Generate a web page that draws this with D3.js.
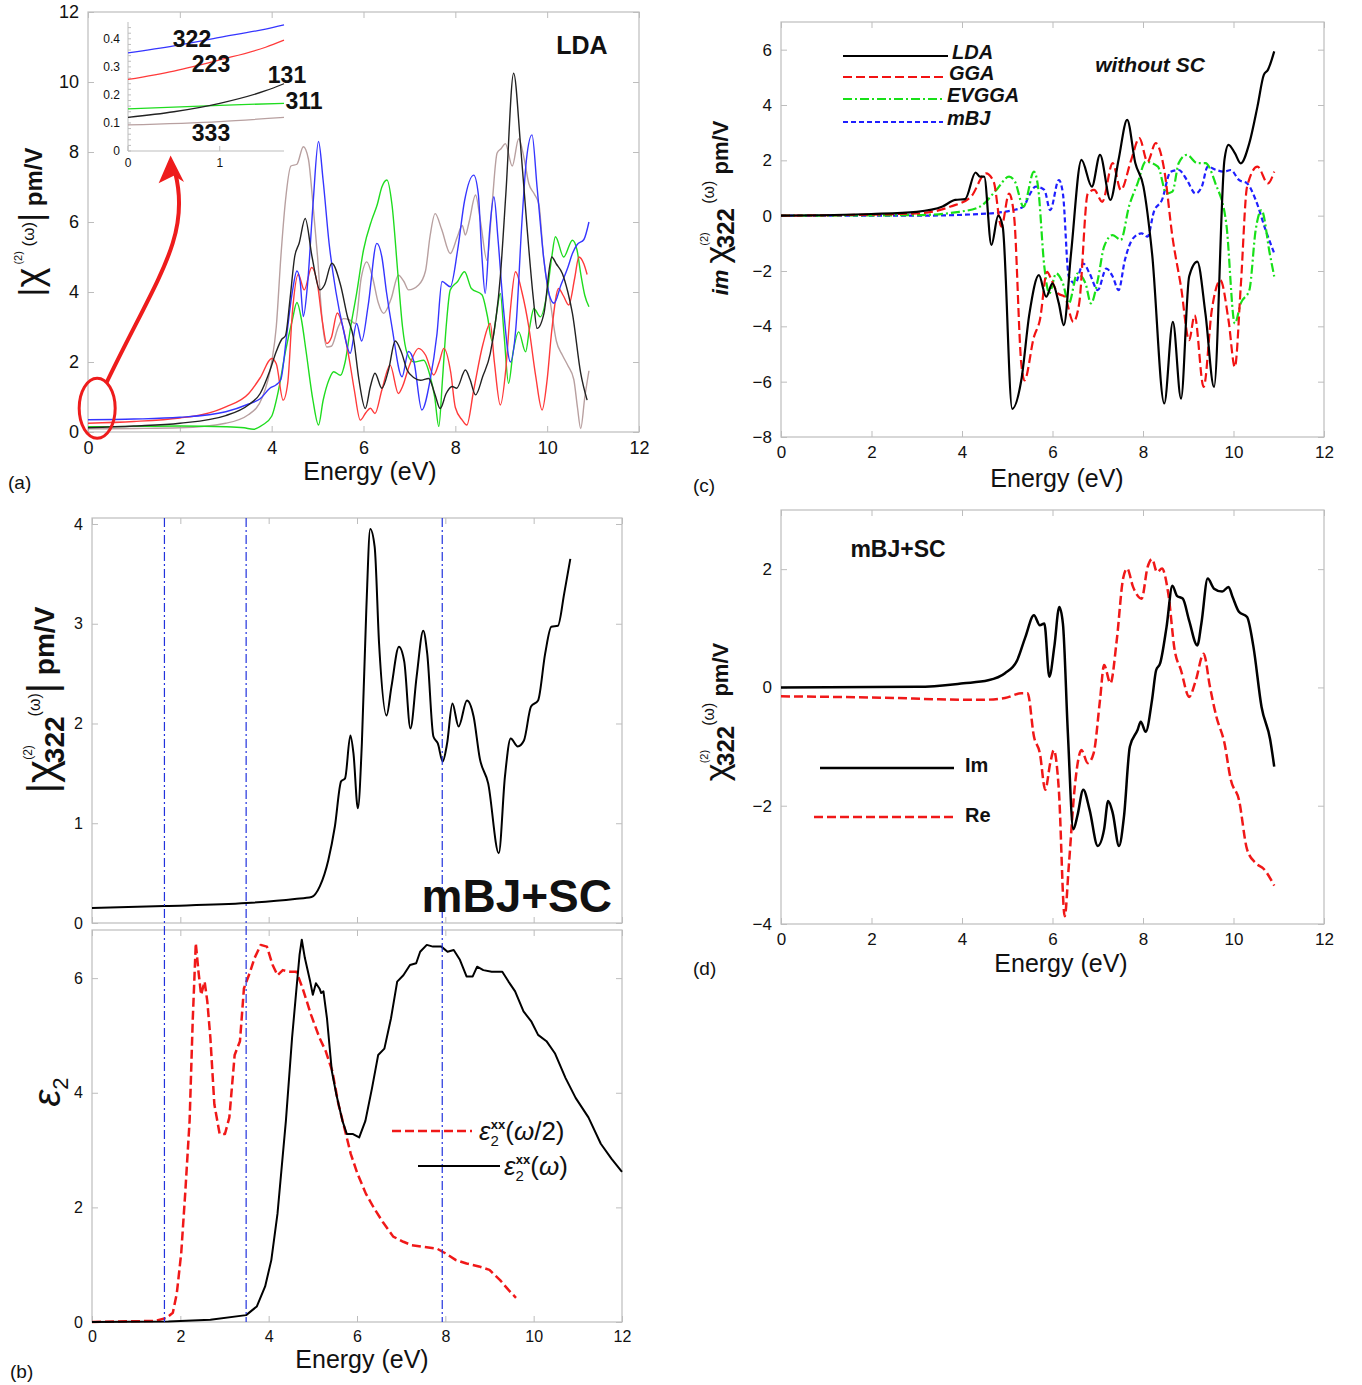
<!DOCTYPE html>
<html>
<head>
<meta charset="utf-8">
<script src="https://cdn.jsdelivr.net/npm/d3@7"></script>
<style>
  body { margin: 0; background: #fff; }
  svg { display: block; }
  text { font-family: "Liberation Sans", Arial, sans-serif; fill: #111; }
</style>
</head>
<body>
<div id="chart"></div>
<script>
// ---------- panel (a): |chi(2)| LDA, five tensor components ----------
const chi322 = [[0,0.35],[1,0.37],[2,0.42],[3,0.58],[3.5,0.8],[3.75,0.95],[3.96,1.25],[4.1,1.35],[4.2,1.5],[4.33,2.8],[4.45,4.0],[4.55,4.6],[4.62,4.3],[4.69,3.3],[4.78,4.2],[4.9,6.5],[5.02,8.3],[5.12,7.2],[5.25,5.4],[5.4,4.0],[5.55,3.0],[5.71,2.25],[5.85,3.1],[5.96,2.6],[6.1,3.6],[6.29,5.39],[6.4,5.0],[6.5,4.0],[6.62,3.0],[6.84,1.58],[6.98,2.3],[7.1,2.0],[7.27,0.63],[7.45,1.48],[7.6,2.8],[7.71,4.3],[7.89,4.15],[8.05,5.2],[8.2,6.6],[8.4,7.34],[8.5,6.8],[8.58,5.0],[8.65,3.96],[8.75,5.8],[8.84,6.72],[8.93,5.5],[9.05,3.5],[9.2,2.0],[9.32,3.0],[9.45,6.0],[9.55,7.8],[9.67,8.49],[9.78,7.0],[9.93,4.91],[10.05,3.9],[10.15,3.68],[10.3,4.2],[10.45,4.7],[10.55,5.1],[10.65,5.35],[10.8,5.5],[10.91,6.0]];
const chi223 = [[0,0.25],[1,0.3],[2,0.4],[2.5,0.5],[3,0.72],[3.5,1.1],[3.75,1.55],[4.0,2.1],[4.1,1.95],[4.25,0.91],[4.35,1.4],[4.45,3.4],[4.58,4.5],[4.71,4.06],[4.87,4.7],[5.0,4.2],[5.1,3.2],[5.2,2.53],[5.3,2.7],[5.43,3.4],[5.55,3.0],[5.7,2.0],[5.8,1.2],[5.93,0.34],[6.05,0.55],[6.15,0.68],[6.25,0.53],[6.4,1.2],[6.58,1.91],[6.76,1.1],[6.85,1.3],[7.0,1.9],[7.2,2.39],[7.35,2.2],[7.53,1.63],[7.65,2.0],[7.75,2.39],[7.9,1.7],[8.0,0.7],[8.15,0.34],[8.25,0.2],[8.4,1.2],[8.6,2.5],[8.76,3.1],[8.85,2.0],[8.98,0.77],[9.1,1.8],[9.2,3.5],[9.31,4.58],[9.45,4.0],[9.6,3.0],[9.75,1.6],[9.89,0.63],[10.0,1.5],[10.1,2.9],[10.25,4.1],[10.35,3.9],[10.47,3.63],[10.6,4.4],[10.69,5.0],[10.8,4.8],[10.87,4.5]];
const chi131 = [[0,0.12],[1,0.17],[2,0.25],[3,0.47],[3.5,0.78],[3.75,1.1],[3.96,1.75],[4.1,2.3],[4.22,2.65],[4.3,2.75],[4.4,3.8],[4.5,5.0],[4.6,5.4],[4.73,6.1],[4.88,5.0],[5.05,4.06],[5.15,4.2],[5.31,4.82],[5.5,4.2],[5.65,3.3],[5.78,2.7],[5.9,1.5],[6.04,0.67],[6.15,1.3],[6.25,1.68],[6.4,1.25],[6.55,1.8],[6.69,2.6],[6.82,2.3],[6.95,1.77],[7.1,1.55],[7.24,1.48],[7.42,1.53],[7.55,1.1],[7.67,0.67],[7.8,1.1],[7.93,1.3],[8.03,1.25],[8.22,1.77],[8.32,1.5],[8.44,1.06],[8.6,1.6],[8.76,2.24],[8.98,4.44],[9.1,6.8],[9.27,10.25],[9.42,8.2],[9.56,5.87],[9.7,3.8],[9.78,2.96],[9.93,3.39],[10.1,5.0],[10.2,4.8],[10.33,4.53],[10.45,4.0],[10.55,3.39],[10.73,1.68],[10.87,0.91]];
const chi311 = [[0,0.15],[1,0.16],[2,0.17],[3,0.15],[3.4,0.12],[3.6,0.08],[3.8,0.2],[4.0,0.45],[4.15,1.2],[4.3,2.3],[4.45,3.2],[4.55,3.7],[4.65,3.2],[4.75,2.3],[4.9,0.9],[5.02,0.2],[5.12,0.9],[5.25,1.5],[5.35,1.72],[5.5,1.62],[5.6,2.0],[5.72,3.0],[5.85,3.96],[6.0,5.2],[6.18,6.06],[6.3,6.5],[6.4,7.0],[6.51,7.2],[6.62,6.5],[6.75,4.5],[6.85,3.0],[6.95,2.25],[7.1,2.0],[7.31,2.05],[7.45,1.6],[7.55,1.0],[7.64,0.16],[7.72,1.5],[7.8,3.0],[7.89,4.06],[8.05,4.3],[8.2,4.58],[8.35,4.1],[8.58,3.92],[8.7,3.3],[8.8,2.6],[8.9,3.4],[8.98,3.96],[9.06,2.8],[9.16,1.39],[9.26,2.3],[9.38,2.86],[9.53,2.29],[9.62,3.0],[9.71,3.53],[9.85,3.29],[10.0,4.0],[10.1,5.0],[10.18,5.58],[10.36,5.0],[10.55,5.48],[10.65,5.2],[10.73,4.53],[10.82,3.9],[10.91,3.58]];
const chi333 = [[0,0.09],[1,0.1],[2,0.12],[3,0.25],[3.5,0.5],[3.8,1.0],[4.0,2.0],[4.1,3.0],[4.2,5.0],[4.3,6.6],[4.42,7.6],[4.55,7.65],[4.69,8.15],[4.8,7.8],[4.9,6.5],[5.0,5.0],[5.1,3.2],[5.2,2.43],[5.3,2.45],[5.45,3.0],[5.56,3.24],[5.7,3.2],[5.82,3.1],[5.95,4.4],[6.07,4.86],[6.2,4.4],[6.32,3.7],[6.44,3.39],[6.6,3.8],[6.76,4.48],[6.88,4.3],[6.98,4.06],[7.2,4.2],[7.35,4.6],[7.45,5.6],[7.56,6.24],[7.7,5.8],[7.89,5.1],[8.05,5.6],[8.15,5.9],[8.22,5.63],[8.3,6.0],[8.44,6.77],[8.55,6.0],[8.69,4.9],[8.8,6.5],[8.91,7.97],[9.0,8.1],[9.09,8.24],[9.24,7.6],[9.38,8.38],[9.5,7.8],[9.6,7.1],[9.72,6.8],[9.82,6.5],[9.92,5.0],[10.07,3.7],[10.2,2.6],[10.33,2.2],[10.45,1.9],[10.58,1.5],[10.66,0.7],[10.73,0.1],[10.82,1.0],[10.91,1.75]];

// inset of (a): low energy zoom
const inset322 = [[0,0.35],[0.5,0.375],[1,0.405],[1.5,0.435],[1.7,0.45]];
const inset223 = [[0,0.255],[0.5,0.285],[1,0.325],[1.5,0.37],[1.7,0.395]];
const inset131 = [[0,0.12],[0.5,0.14],[1,0.17],[1.5,0.215],[1.7,0.24]];
const inset311 = [[0,0.15],[1,0.163],[1.7,0.17]];
const inset333 = [[0,0.093],[1,0.105],[1.7,0.12]];

// ---------- panel (b): |chi322| mBJ+SC and eps2 ----------
const chiMbjSc = [[0,0.15],[1.64,0.17],[3.5,0.2],[4.59,0.24],[4.97,0.26],[5.16,0.37],[5.35,0.63],[5.5,0.97],[5.64,1.42],[5.73,1.45],[5.85,1.88],[5.92,1.7],[6.02,1.15],[6.11,1.8],[6.21,3.13],[6.3,3.95],[6.4,3.77],[6.5,2.8],[6.67,2.08],[6.78,2.37],[6.95,2.77],[7.07,2.62],[7.21,1.95],[7.35,2.47],[7.5,2.93],[7.59,2.7],[7.73,1.87],[7.83,1.8],[7.94,1.62],[8.04,1.8],[8.16,2.2],[8.3,1.97],[8.49,2.23],[8.64,2.07],[8.78,1.65],[8.97,1.4],[9.21,0.7],[9.35,1.47],[9.48,1.85],[9.64,1.77],[9.78,1.83],[9.94,2.17],[10.1,2.23],[10.26,2.7],[10.4,2.97],[10.55,2.98],[10.69,3.3],[10.83,3.65]];
const eps2Omega = [[0,0],[1.73,0.01],[2.68,0.04],[3.49,0.12],[3.73,0.27],[3.92,0.62],[4.06,1.08],[4.2,1.89],[4.39,3.51],[4.53,4.96],[4.63,5.82],[4.7,6.41],[4.75,6.67],[4.82,6.35],[4.94,5.94],[5.0,5.71],[5.07,5.91],[5.15,5.82],[5.19,5.74],[5.24,5.77],[5.32,5.3],[5.43,4.38],[5.53,3.98],[5.67,3.51],[5.77,3.28],[5.91,3.28],[6.05,3.22],[6.19,3.51],[6.34,4.08],[6.48,4.66],[6.62,4.77],[6.77,5.3],[6.91,5.94],[7.05,6.05],[7.2,6.23],[7.34,6.26],[7.43,6.46],[7.58,6.58],[7.72,6.55],[7.91,6.55],[8.05,6.46],[8.19,6.49],[8.33,6.32],[8.48,6.03],[8.62,6.03],[8.72,6.2],[8.86,6.14],[9.05,6.11],[9.29,6.11],[9.43,5.94],[9.58,5.77],[9.77,5.42],[9.95,5.24],[10.1,5.01],[10.29,4.9],[10.48,4.69],[10.72,4.26],[10.95,3.91],[11.24,3.57],[11.52,3.11],[11.76,2.85],[12.0,2.62]];
const eps2Half = [[0,0],[1.44,0.02],[1.68,0.07],[1.83,0.16],[1.92,0.5],[2.02,1.2],[2.11,2.24],[2.21,3.51],[2.28,5.25],[2.35,6.61],[2.41,6.12],[2.47,5.71],[2.55,5.94],[2.61,5.6],[2.68,4.96],[2.77,3.8],[2.89,3.28],[3.01,3.28],[3.11,3.57],[3.23,4.66],[3.35,4.9],[3.44,5.82],[3.58,6.11],[3.68,6.35],[3.82,6.58],[3.96,6.55],[4.09,6.23],[4.2,6.05],[4.32,6.14],[4.49,6.11],[4.63,6.11],[4.77,5.82],[4.96,5.36],[5.15,4.96],[5.29,4.73],[5.44,4.38],[5.58,3.8],[5.72,3.37],[5.86,2.93],[6.01,2.59],[6.2,2.24],[6.39,1.98],[6.58,1.75],[6.82,1.49],[7.05,1.4],[7.24,1.34],[7.53,1.31],[7.81,1.28],[8.0,1.2],[8.24,1.08],[8.48,1.02],[8.76,0.97],[9.0,0.91],[9.24,0.73],[9.43,0.56],[9.6,0.42]];
const markerEnergies = [1.64, 3.49, 7.93];

// ---------- panel (c): Im chi322 without SC, four functionals ----------
const imLDA = [[0,0],[2.0,0.06],[3.0,0.14],[3.57,0.33],[3.85,0.57],[4.07,0.6],[4.3,1.56],[4.4,1.41],[4.49,1.41],[4.65,-1.06],[4.8,0],[4.9,-0.4],[5.11,-6.98],[5.31,-5.95],[5.49,-3.54],[5.7,-2.15],[5.86,-2.93],[6.0,-2.45],[6.14,-3.17],[6.25,-3.96],[6.41,-1.36],[6.64,2.02],[6.87,1.05],[7.05,2.2],[7.28,0.57],[7.46,2.02],[7.65,3.46],[7.83,1.9],[8.01,1.05],[8.2,-1.36],[8.47,-6.79],[8.66,-3.84],[8.84,-6.61],[9.02,-2.2],[9.2,-1.66],[9.38,-3.54],[9.57,-6.19],[9.8,2.02],[9.89,2.56],[10.03,2.26],[10.16,1.89],[10.35,2.62],[10.53,3.95],[10.67,5.09],[10.76,5.27],[10.9,5.94]];
const imGGA = [[0,0],[3.0,0.08],[3.75,0.33],[4.2,0.69],[4.53,1.53],[4.7,1.23],[4.87,-0.4],[5.04,0.8],[5.15,0],[5.31,-5.35],[5.38,-5.95],[5.59,-4.38],[5.72,-3.78],[5.88,-2.03],[5.98,-2.33],[6.12,-2.81],[6.27,-2.93],[6.46,-3.84],[6.59,-3.17],[6.78,0.8],[6.92,0.93],[7.1,0.5],[7.33,1.9],[7.51,0.93],[7.74,2.02],[7.92,2.8],[8.1,1.95],[8.28,2.62],[8.47,1.65],[8.65,-0.76],[8.84,-2.57],[9.02,-4.5],[9.14,-3.6],[9.34,-6.19],[9.52,-3.42],[9.71,-2.33],[9.89,-3.78],[10.03,-5.47],[10.16,-2.57],[10.3,1.05],[10.53,1.77],[10.76,1.17],[10.9,1.59]];
const imEVGGA = [[0,0],[3.0,0.02],[3.94,0.14],[4.4,0.33],[4.76,0.93],[5.04,1.41],[5.17,1.23],[5.36,0.33],[5.59,1.59],[5.68,1.05],[5.82,-1.85],[5.93,-2.81],[6.08,-2.09],[6.23,-2.45],[6.36,-3.17],[6.55,-2.09],[6.73,-2.45],[6.85,-3.17],[7.0,-2.33],[7.14,-1.12],[7.33,-0.7],[7.51,-0.88],[7.69,0.33],[7.88,1.17],[8.06,1.95],[8.33,1.77],[8.52,0.8],[8.65,0.87],[8.79,1.9],[8.97,2.2],[9.2,1.9],[9.38,1.9],[9.6,1.17],[9.84,-0.28],[10.03,-3.9],[10.16,-3.17],[10.35,-2.69],[10.49,-0.52],[10.62,0.2],[10.8,-1.36],[10.9,-2.2]];
const imMBJ = [[0,0],[3.0,0],[4.4,0.06],[5.13,0.2],[5.36,0.33],[5.49,0.75],[5.63,1.05],[5.82,0.93],[5.95,0.2],[6.14,1.29],[6.23,0.8],[6.36,-2.2],[6.5,-2.45],[6.68,-1.73],[6.82,-2.09],[7.0,-2.69],[7.19,-1.91],[7.33,-2.2],[7.46,-2.69],[7.6,-1.6],[7.78,-0.82],[7.97,-0.64],[8.1,-0.76],[8.24,0.14],[8.42,0.57],[8.61,1.59],[8.79,1.65],[8.97,1.29],[9.16,0.8],[9.3,1.05],[9.43,1.77],[9.62,1.65],[9.8,1.59],[9.94,1.65],[10.12,1.29],[10.3,1.17],[10.49,0.57],[10.71,-0.52],[10.9,-1.36]];

// ---------- panel (d): Im / Re chi322 mBJ+SC ----------
const imMbjSc = [[0,0],[3.02,0.01],[4.03,0.07],[4.58,0.12],[4.95,0.24],[5.22,0.46],[5.4,0.85],[5.59,1.22],[5.72,1.05],[5.82,1.08],[5.93,0.18],[6.04,0.69],[6.15,1.36],[6.23,1.08],[6.34,-0.78],[6.46,-2.4],[6.55,-2.17],[6.68,-1.73],[6.82,-2.07],[7.0,-2.68],[7.14,-2.4],[7.23,-1.92],[7.33,-2.12],[7.47,-2.68],[7.58,-2.18],[7.71,-1.0],[7.88,-0.72],[7.95,-0.58],[8.06,-0.75],[8.2,-0.21],[8.29,0.29],[8.38,0.41],[8.52,1.02],[8.65,1.72],[8.75,1.55],[8.88,1.5],[9.02,1.13],[9.2,0.71],[9.29,1.08],[9.43,1.84],[9.57,1.67],[9.75,1.62],[9.89,1.7],[9.98,1.53],[10.12,1.28],[10.3,1.19],[10.44,0.69],[10.62,-0.33],[10.81,-0.88],[10.9,-1.34]];
const reMbjSc = [[0,-0.15],[2.56,-0.18],[3.48,-0.2],[4.4,-0.21],[4.95,-0.18],[5.31,-0.1],[5.45,-0.1],[5.59,-0.83],[5.72,-1.11],[5.84,-1.73],[5.95,-1.28],[6.03,-1.06],[6.14,-1.73],[6.27,-3.87],[6.36,-3.02],[6.5,-1.62],[6.64,-1.06],[6.78,-1.28],[6.91,-1.11],[7.05,-0.21],[7.14,0.38],[7.28,0.07],[7.42,0.8],[7.56,1.84],[7.65,2.01],[7.78,1.7],[7.97,1.5],[8.1,2.03],[8.2,2.17],[8.31,1.95],[8.42,2.01],[8.56,1.58],[8.7,0.63],[8.84,0.29],[9.02,-0.16],[9.16,0.1],[9.34,0.57],[9.48,0.01],[9.62,-0.49],[9.8,-0.94],[9.94,-1.56],[10.12,-1.9],[10.3,-2.74],[10.49,-2.97],[10.67,-3.07],[10.9,-3.35]];

const energyTicks = [0, 2, 4, 6, 8, 10, 12];

const svg = d3.select("#chart").append("svg")
    .attr("width", 1362)
    .attr("height", 1385);

const FRAME = "#bdbdbd";

// frame + inward ticks on all four sides, labels on bottom/left
function panel(box, xDomain, yDomain, xTicks, yTicks, opt) {
    opt = opt || {};
    const g = svg.append("g");
    const x = d3.scaleLinear().domain(xDomain).range([box.left, box.right]);
    const y = d3.scaleLinear().domain(yDomain).range([box.bottom, box.top]);
    const fs = opt.fontSize || 17;

    g.append("rect")
        .attr("x", box.left).attr("y", box.top)
        .attr("width", box.right - box.left).attr("height", box.bottom - box.top)
        .attr("fill", "none").attr("stroke", FRAME).attr("stroke-width", 1.2);

    const fmt = d3.format("d");
    const axes = [
        [d3.axisBottom(x).tickValues(xTicks).tickFormat(opt.noXLabels ? "" : fmt), `translate(0,${box.bottom})`],
        [d3.axisTop(x).tickValues(xTicks).tickFormat(""), `translate(0,${box.top})`],
        [d3.axisLeft(y).tickValues(yTicks).tickFormat(fmt), `translate(${box.left},0)`],
        [d3.axisRight(y).tickValues(yTicks).tickFormat(""), `translate(${box.right},0)`]
    ];
    axes.forEach(([ax, tr]) => {
        const a = g.append("g").attr("transform", tr)
            .call(ax.tickSize(-6).tickPadding(opt.pad || 9));
        a.select(".domain").remove();
        a.selectAll(".tick line").attr("stroke", FRAME);
        a.selectAll(".tick text").attr("font-size", fs).attr("fill", "#222")
            .attr("font-family", '"Liberation Sans", Arial, sans-serif');
    });
    return { g, x, y };
}

function drawLine(p, data, color, width, dash, curve) {
    const line = d3.line()
        .x(d => p.x(d[0]))
        .y(d => p.y(d[1]))
        .curve(curve || d3.curveMonotoneX);
    p.g.append("path")
        .datum(data)
        .attr("d", line)
        .attr("fill", "none")
        .attr("stroke", color)
        .attr("stroke-width", width)
        .attr("stroke-linejoin", "round")
        .attr("stroke-dasharray", dash || null);
}

function label(x, y, txt, size, extra) {
    const t = svg.append("text").attr("x", x).attr("y", y)
        .attr("font-size", size).text(txt);
    if (extra) Object.entries(extra).forEach(([k, v]) => t.attr(k, v));
    return t;
}

// ================= (a) =================
const pa = panel({ left: 88, right: 639, top: 12, bottom: 432 }, [0, 12], [0, 12],
    energyTicks, [0, 2, 4, 6, 8, 10, 12], { fontSize: 18 });

const aColors = { c322: "#3535ff", c223: "#ff3a3a", c131: "#222", c311: "#1fdc1f", c333: "#b8a0a0" };
drawLine(pa, chi333, aColors.c333, 1.4);
drawLine(pa, chi311, aColors.c311, 1.4);
drawLine(pa, chi223, aColors.c223, 1.4);
drawLine(pa, chi322, aColors.c322, 1.4);
drawLine(pa, chi131, aColors.c131, 1.4);

// inset
const ins = {
    g: svg.append("g"),
    x: d3.scaleLinear().domain([0, 1.7]).range([128, 284]),
    y: d3.scaleLinear().domain([0, 0.46]).range([151, 22])
};
ins.g.append("line").attr("x1", 128).attr("x2", 128).attr("y1", 151).attr("y2", 22).attr("stroke", FRAME);
ins.g.append("line").attr("x1", 128).attr("x2", 284).attr("y1", 151).attr("y2", 151).attr("stroke", FRAME);
[0, 0.1, 0.2, 0.3, 0.4].forEach(v => {
    ins.g.append("text").attr("x", 120).attr("y", ins.y(v) + 4).attr("text-anchor", "end")
        .attr("font-size", 12).attr("fill", "#222").text(v === 0 ? "0" : v.toFixed(1));
});
d3.range(0, 0.46, 0.02).forEach(v => {
    ins.g.append("line").attr("x1", 128).attr("x2", 131).attr("y1", ins.y(v)).attr("y2", ins.y(v)).attr("stroke", FRAME);
});
[0, 1].forEach(v => {
    ins.g.append("text").attr("x", ins.x(v)).attr("y", 167).attr("text-anchor", "middle")
        .attr("font-size", 12).attr("fill", "#222").text(v);
    ins.g.append("line").attr("x1", ins.x(v)).attr("x2", ins.x(v)).attr("y1", 151).attr("y2", 146).attr("stroke", FRAME);
});
drawLine(ins, inset333, aColors.c333, 1.3);
drawLine(ins, inset311, aColors.c311, 1.3);
drawLine(ins, inset131, aColors.c131, 1.3);
drawLine(ins, inset223, aColors.c223, 1.3);
drawLine(ins, inset322, aColors.c322, 1.3);

const insetLabels = [["322", 192, 47], ["223", 211, 72], ["131", 287, 83], ["311", 304, 109], ["333", 211, 141]];
insetLabels.forEach(([t, x, y]) => label(x, y, t, 23, { "font-weight": "bold", "text-anchor": "middle" }));

label(582, 54, "LDA", 25, { "font-weight": "bold", "text-anchor": "middle" });

// red ellipse + arrow pointing to the inset
svg.append("ellipse")
    .attr("cx", pa.x(0.2)).attr("cy", pa.y(0.68))
    .attr("rx", 18).attr("ry", 30)
    .attr("fill", "none").attr("stroke", "#ee1c1c").attr("stroke-width", 3);
const arrowPath = d3.path();
arrowPath.moveTo(pa.x(0.4), pa.y(1.4));
arrowPath.bezierCurveTo(pa.x(1.5), pa.y(4.4), pa.x(2.25), pa.y(5.6), pa.x(1.9), pa.y(7.4));
svg.append("path").attr("d", arrowPath.toString())
    .attr("fill", "none").attr("stroke", "#ee1c1c").attr("stroke-width", 4);
svg.append("path")
    .attr("d", `M${pa.x(1.57)},${pa.y(7.15)} L${pa.x(1.8)},${pa.y(7.85)} L${pa.x(2.05)},${pa.y(7.2)} L${pa.x(1.87)},${pa.y(7.35)} Z`)
    .attr("fill", "#ee1c1c").attr("stroke", "#ee1c1c").attr("stroke-width", 1.5);

// y label (a)
{
    const t = svg.append("text").attr("transform", "translate(42,222) rotate(-90)")
        .attr("text-anchor", "middle");
    t.append("tspan").attr("font-size", 34).text("|");
    t.append("tspan").attr("font-size", 38).text("χ");
    t.append("tspan").attr("font-size", 11).attr("dy", -20).text(" (2)");
    t.append("tspan").attr("font-size", 17).attr("dy", 12).text(" (ω)");
    t.append("tspan").attr("font-size", 34).attr("dy", 8).text("|");
    t.append("tspan").attr("font-size", 24).attr("font-weight", "bold").text(" pm/V");
}
label(370, 480, "Energy (eV)", 25, { "text-anchor": "middle" });
label(8, 489, "(a)", 19);

// ================= (c) =================
const pc = panel({ left: 781, right: 1324, top: 22, bottom: 437 }, [0, 12], [-8, 7],
    energyTicks, [-8, -6, -4, -2, 0, 2, 4, 6]);

const cStyles = [
    { data: imMBJ, color: "#1f1fff", dash: "5,3", name: "mBJ" },
    { data: imEVGGA, color: "#18e018", dash: "9,3,2,3", name: "EVGGA" },
    { data: imGGA, color: "#f21212", dash: "9,4", name: "GGA" },
    { data: imLDA, color: "#000", dash: null, name: "LDA" }
];
cStyles.forEach(s => drawLine(pc, s.data, s.color, 2.2, s.dash));

const cLegend = [
    { name: "LDA", y: 56, lx: 952 },
    { name: "GGA", y: 77, lx: 949 },
    { name: "EVGGA", y: 99, lx: 947 },
    { name: "mBJ", y: 122, lx: 947 }
];
cLegend.forEach(l => {
    const s = cStyles.find(c => c.name === l.name);
    svg.append("line").attr("x1", 843).attr("x2", l.lx - 4).attr("y1", l.y).attr("y2", l.y)
        .attr("stroke", s.color).attr("stroke-width", 2).attr("stroke-dasharray", s.dash);
    label(l.lx, l.y + 3, l.name, 20, { "font-weight": "bold", "font-style": "italic" });
});
label(1150, 72, "without SC", 21, { "font-weight": "bold", "font-style": "italic", "text-anchor": "middle" });

{
    const t = svg.append("text").attr("transform", "translate(728,208) rotate(-90)")
        .attr("text-anchor", "middle");
    t.append("tspan").attr("font-size", 22).attr("font-weight", "bold").attr("font-style", "italic").text("im ");
    t.append("tspan").attr("font-size", 34).text("χ");
    t.append("tspan").attr("font-size", 11).attr("dy", -20).text("(2)");
    t.append("tspan").attr("font-size", 24).attr("font-weight", "bold").attr("dx", -16).attr("dy", 26).text("322");
    t.append("tspan").attr("font-size", 16).attr("dy", -20).text(" (ω)");
    t.append("tspan").attr("font-size", 22).attr("font-weight", "bold").attr("dy", 14).text(" pm/V");
}
label(1057, 487, "Energy (eV)", 25, { "text-anchor": "middle" });
label(693, 492, "(c)", 19);

// ================= (b) =================
const pbTop = panel({ left: 92, right: 622, top: 518, bottom: 923 }, [0, 12], [0, 4.06],
    energyTicks, [0, 1, 2, 3, 4], { fontSize: 16, noXLabels: true });
const pbBot = panel({ left: 92, right: 622, top: 930, bottom: 1322 }, [0, 12], [0, 6.84],
    energyTicks, [0, 2, 4, 6], { fontSize: 16 });

// vertical dash-dot markers through both sub-panels
markerEnergies.forEach(e => {
    svg.append("line")
        .attr("x1", pbTop.x(e)).attr("x2", pbTop.x(e))
        .attr("y1", pbTop.y(4.06)).attr("y2", pbBot.y(0))
        .attr("stroke", "#2233dd").attr("stroke-width", 1.2)
        .attr("stroke-dasharray", "9,3,2,3");
});

drawLine(pbTop, chiMbjSc, "#000", 2);
drawLine(pbBot, eps2Half, "#f01818", 2.5, "9,4", d3.curveLinear);
drawLine(pbBot, eps2Omega, "#000", 2, null, d3.curveLinear);

label(612, 912, "mBJ+SC", 46, { "font-weight": "bold", "text-anchor": "end" });

// legend (b)
svg.append("line").attr("x1", 392).attr("x2", 472).attr("y1", 1131).attr("y2", 1131)
    .attr("stroke", "#f01818").attr("stroke-width", 2.5).attr("stroke-dasharray", "9,4");
svg.append("line").attr("x1", 418).attr("x2", 500).attr("y1", 1166).attr("y2", 1166)
    .attr("stroke", "#000").attr("stroke-width", 2);
function epsLabel(x, y, arg, tail) {
    const t = svg.append("text").attr("x", x).attr("y", y)
        .attr("font-family", '"Liberation Serif", "Times New Roman", serif');
    t.append("tspan").attr("font-size", 26).attr("font-style", "italic").text("ε");
    t.append("tspan").attr("font-size", 15).attr("dy", 6).text("2");
    t.append("tspan").attr("font-size", 13).attr("font-weight", "bold").attr("dx", -8).attr("dy", -17).text("xx");
    t.append("tspan").attr("font-size", 26).attr("dy", 11).text("(");
    t.append("tspan").attr("font-size", 26).attr("font-style", "italic").text(arg);
    t.append("tspan").attr("font-size", 26).text(tail);
}
epsLabel(479, 1140, "ω", "/2)");
epsLabel(504, 1175, "ω", ")");

{
    const t = svg.append("text").attr("transform", "translate(56,700) rotate(-90)")
        .attr("text-anchor", "middle");
    t.append("tspan").attr("font-size", 40).text("|");
    t.append("tspan").attr("font-size", 44).text("χ");
    t.append("tspan").attr("font-size", 12).attr("dy", -24).text("(2)");
    t.append("tspan").attr("font-size", 28).attr("font-weight", "bold").attr("dx", -18).attr("dy", 32).text("322");
    t.append("tspan").attr("font-size", 16).attr("dy", -24).text("(ω)");
    t.append("tspan").attr("font-size", 40).attr("dy", 16).text("|");
    t.append("tspan").attr("font-size", 28).attr("font-weight", "bold").attr("dy", -2).text(" pm/V");
}
{
    const t = svg.append("text").attr("transform", "translate(60,1092) rotate(-90)")
        .attr("text-anchor", "middle")
        .attr("font-family", '"Liberation Serif", "Times New Roman", serif');
    t.append("tspan").attr("font-size", 38).attr("font-style", "italic").text("ε");
    t.append("tspan").attr("font-size", 22).attr("dy", 8).text("2");
}
label(362, 1368, "Energy (eV)", 25, { "text-anchor": "middle" });
label(10, 1378, "(b)", 19);

// ================= (d) =================
const pd = panel({ left: 781, right: 1324, top: 510, bottom: 924 }, [0, 12], [-4, 3],
    energyTicks, [-4, -2, 0, 2]);
drawLine(pd, reMbjSc, "#f01818", 2.5, "9,4");
drawLine(pd, imMbjSc, "#000", 2.5);

label(898, 557, "mBJ+SC", 23, { "font-weight": "bold", "text-anchor": "middle" });
svg.append("line").attr("x1", 820).attr("x2", 954).attr("y1", 768).attr("y2", 768)
    .attr("stroke", "#000").attr("stroke-width", 2.5);
svg.append("line").attr("x1", 814).attr("x2", 955).attr("y1", 817).attr("y2", 817)
    .attr("stroke", "#f01818").attr("stroke-width", 2.5).attr("stroke-dasharray", "9,4");
label(965, 772, "Im", 20, { "font-weight": "bold" });
label(965, 822, "Re", 20, { "font-weight": "bold" });

{
    const t = svg.append("text").attr("transform", "translate(728,712) rotate(-90)")
        .attr("text-anchor", "middle");
    t.append("tspan").attr("font-size", 34).text("χ");
    t.append("tspan").attr("font-size", 11).attr("dy", -20).text("(2)");
    t.append("tspan").attr("font-size", 24).attr("font-weight", "bold").attr("dx", -16).attr("dy", 26).text("322");
    t.append("tspan").attr("font-size", 16).attr("dy", -20).text("(ω)");
    t.append("tspan").attr("font-size", 22).attr("font-weight", "bold").attr("dy", 14).text(" pm/V");
}
label(1061, 972, "Energy (eV)", 25, { "text-anchor": "middle" });
label(693, 975, "(d)", 19);
</script>
</body>
</html>
